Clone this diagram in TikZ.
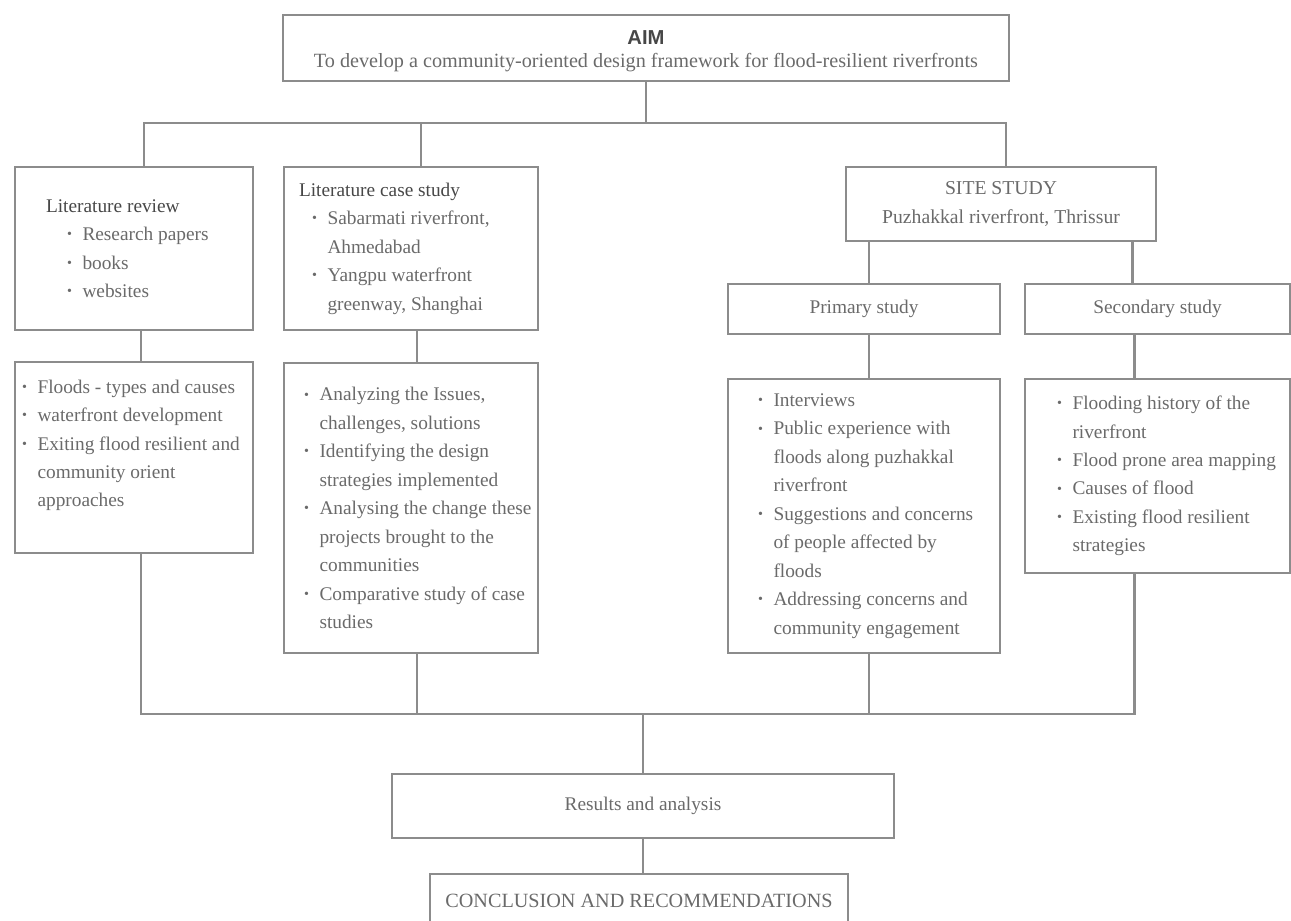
\documentclass[tikz,border=0pt]{standalone}
\usepackage{fontspec}
\setmainfont{Liberation Serif}
\newfontfamily\aimfont{Liberation Sans}
\usetikzlibrary{positioning}

\definecolor{linegray}{HTML}{8C8C8C}
\definecolor{textgray}{HTML}{6A6A6A}
\definecolor{headgray}{HTML}{474747}

% bullet item, continuation lines with \newline
\newcommand{\bitem}[1]{\hangindent=0.8em\hangafter=1\noindent\makebox[0.8em][l]{\raisebox{0.2ex}{\footnotesize\textbullet}}#1\par}
\newcommand{\headline}[1]{\noindent{\color{headgray}#1}\par}

\begin{document}
\begin{tikzpicture}[x=0.02cm, y=-0.02cm,
		box/.style={draw=linegray, line width=1.2pt, rectangle, anchor=north west, inner sep=0pt,
			text=textgray, font=\fontsize{11}{16.2}\selectfont},
		listbox/.style={box, align=flush left},
		link/.style={draw=linegray, line width=1.2pt}]
	\useasboundingbox (0,0) rectangle (1291,920);
	\coordinate (topbus) at (0,123);
	\coordinate (lowbus) at (0,714);

	% top
	\node[box, align=center, minimum width=14.52cm, minimum height=1.32cm, font=\fontsize{11.5}{13}\selectfont](aim) at (282,14)
		{{\aimfont\bfseries\color{headgray}\rule{0pt}{12pt}AIM}\\To develop a community-oriented design framework for flood-resilient riverfronts};

	% literature branch
	\node[listbox, text width=4.76cm, minimum height=3.26cm](litrev) at (14,166)
		{\leftskip=0.62cm\headline{Literature review}\leftskip=1.04cm
		\bitem{Research papers}\bitem{books}\bitem{websites}};
	\node[listbox, text width=5.08cm, minimum height=3.26cm](litcase) at (283,166)
		{\leftskip=0.3cm\headline{Literature case study}\leftskip=0.56cm
		\bitem{Sabarmati riverfront,\newline Ahmedabad}\bitem{Yangpu waterfront\newline greenway, Shanghai}};

	\node[listbox, text width=4.76cm, minimum height=3.82cm](revdet) at (14,361)
		{\leftskip=0.14cm
		\bitem{Floods - types and causes}\bitem{waterfront development}
		\bitem{Exiting flood resilient and\newline community orient\newline approaches}\noindent\mbox{}\par};
	\node[listbox, text width=5.08cm, minimum height=5.8cm](casedet) at (283,362)
		{\leftskip=0.4cm
		\bitem{Analyzing the Issues,\newline challenges, solutions}
		\bitem{Identifying the design\newline strategies implemented}
		\bitem{Analysing the change these\newline projects brought to the\newline communities}
		\bitem{Comparative study of case\newline studies}};

	% site branch
	\node[box, align=center, minimum width=6.2cm, minimum height=1.48cm, font=\fontsize{11.2}{16.5}\selectfont](site) at (845,166)
		{SITE STUDY\\Puzhakkal riverfront, Thrissur};
	\node[box, minimum width=5.44cm, minimum height=1cm](primary) at (727,283) {Primary study};
	\node[box, minimum width=5.3cm, minimum height=1cm](secondary) at (1024,283) {Secondary study};

	\node[listbox, text width=5.44cm, minimum height=5.48cm](primdet) at (727,378)
		{\leftskip=0.6cm
		\bitem{Interviews}
		\bitem{Public experience with\newline floods along puzhakkal\newline riverfront}
		\bitem{Suggestions and concerns\newline of people affected by\newline floods}
		\bitem{Addressing concerns and\newline community engagement}};
	\node[listbox, text width=5.3cm, minimum height=3.88cm](secdet) at (1024,378)
		{\leftskip=0.64cm
		\bitem{Flooding history of the\newline riverfront}
		\bitem{Flood prone area mapping}
		\bitem{Causes of flood}
		\bitem{Existing flood resilient\newline strategies}};

	% bottom
	\node[box, minimum width=10.04cm, minimum height=1.28cm](results) at (391,773) {Results and analysis};
	\node[box, minimum width=8.36cm, minimum height=1.06cm, font=\fontsize{11.5}{14}\selectfont](concl) at (429,873) {CONCLUSION AND RECOMMENDATIONS};

	% connectors
	\draw[link] (aim.south) -- (aim.south |- topbus);
	\draw[link] ([xshift=2mm]litrev.north) -- ([xshift=2mm]litrev.north |- topbus) -| ([xshift=1mm]site.north);
	\draw[link] ([xshift=2mm]litcase.north) -- ([xshift=2mm]litcase.north |- topbus);
	\draw[link] ([xshift=1.4mm]litrev.south) -- ([xshift=1.4mm]revdet.north);
	\draw[link] ([xshift=1.2mm]litcase.south) -- ([xshift=1.2mm]casedet.north);
	\draw[link] ([xshift=1mm]primary.north) -- ([xshift=1mm]primary.north |- site.south);
	\draw[link] ([xshift=-5mm]secondary.north) -- ([xshift=-5mm]secondary.north |- site.south);
	\draw[link] ([xshift=1mm]primary.south) -- ([xshift=1mm]primdet.north);
	\draw[link] ([xshift=-4.6mm]secondary.south) -- ([xshift=-4.6mm]secdet.north);
	\draw[link] ([xshift=1.4mm]revdet.south) -- ([xshift=1.4mm]revdet.south |- lowbus) -| ([xshift=-4.6mm]secdet.south);
	\draw[link] ([xshift=1.2mm]casedet.south) -- ([xshift=1.2mm]casedet.south |- lowbus);
	\draw[link] ([xshift=1mm]primdet.south) -- ([xshift=1mm]primdet.south |- lowbus);
	\draw[link] (results.north) -- (results.north |- lowbus);
	\draw[link] (results.south) -- (results.south |- concl.north);
\end{tikzpicture}
\end{document}
